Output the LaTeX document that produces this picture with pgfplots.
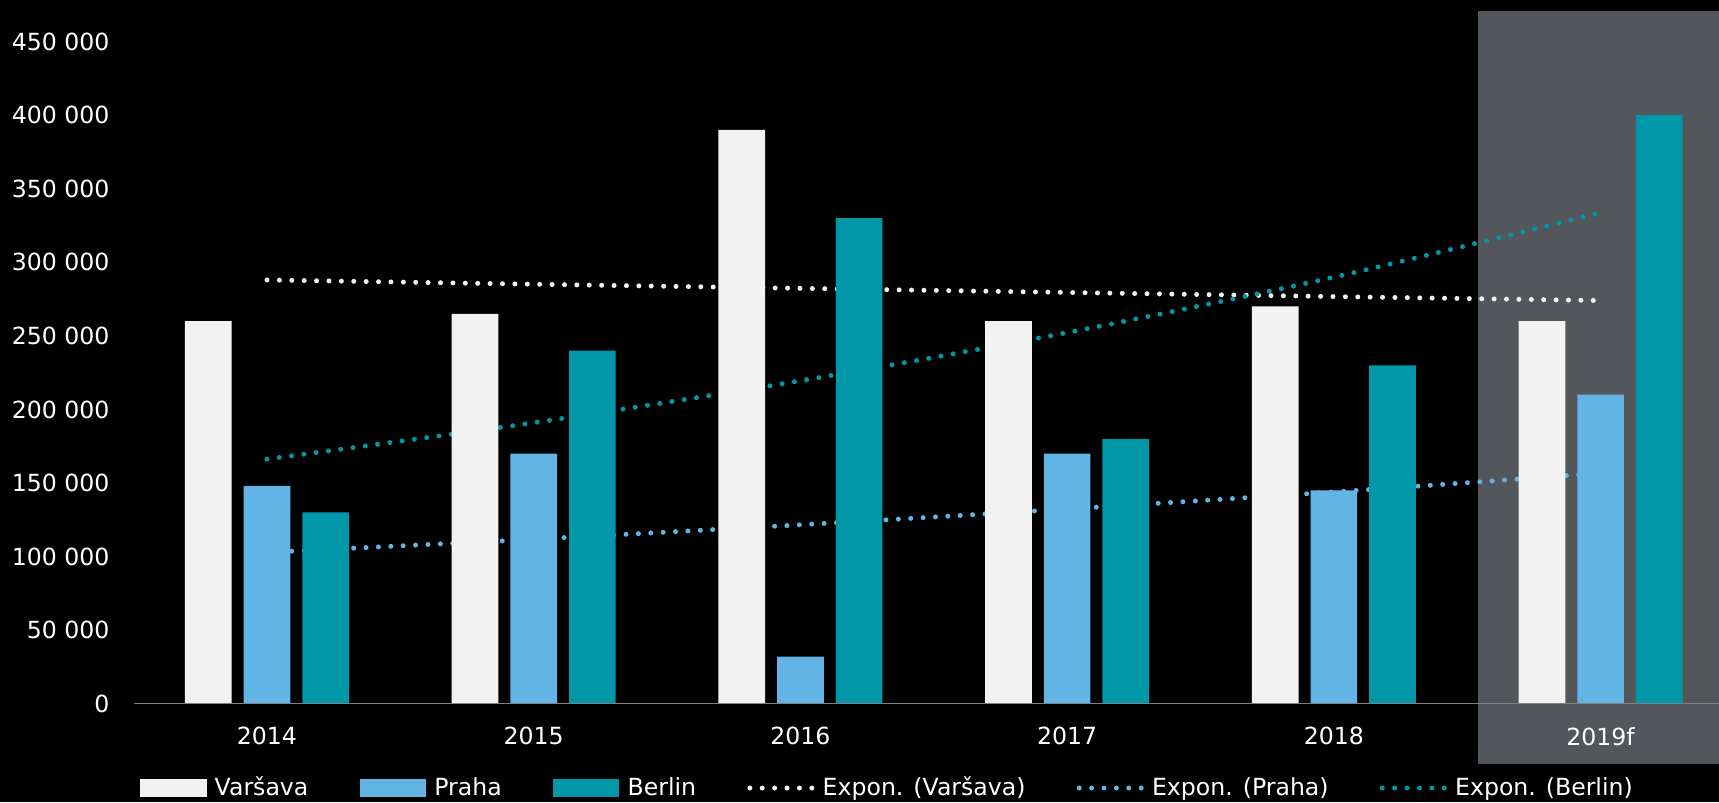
\documentclass[border=0pt]{standalone}
\usepackage{fontspec}
\setmainfont{DejaVu Sans}
\usepackage{pgfplots}
\pgfplotsset{compat=1.18}
\definecolor{warsaw}{HTML}{F2F2F2}
\definecolor{prague}{HTML}{62B4E4}
\definecolor{berlin}{HTML}{0098A9}
\definecolor{fc}{HTML}{53565A}
\definecolor{axisgray}{HTML}{808080}
\begin{document}
\fontsize{11.8}{14}\selectfont
\begin{tikzpicture}
\begin{axis}[
 scale only axis, width=792.9pt, height=331.1pt,
 xmin=-0.5, xmax=5.444, ymin=0, ymax=450000,
 axis line style={draw=none},
 clip=false, axis on top,
 scaled y ticks=false,
 xtick={0,...,5}, xticklabels={2014,2015,2016,2017,2018,2019f},
 ytick={0,50000,100000,150000,200000,250000,300000,350000,400000,450000},
 yticklabels={0,50 000,100 000,150 000,200 000,250 000,300 000,350 000,400 000,450 000},
 major tick length=0pt,
 tick label style={text=white, font=\fontsize{11.8}{14}\selectfont},
 x tick label style={yshift=-7.7pt},
 y tick label style={xshift=-8pt},
 legend columns=6,
 legend style={text=white, draw=none, fill=none, inner sep=0pt, outer sep=0pt,
   at={(0.004,-0.1275)}, anchor=west, font=\fontsize{11.8}{14}\selectfont,
   /tikz/every odd column/.append style={column sep=2.2pt},
   /tikz/every even column/.append style={column sep=23.6pt}},
]
\coordinate (bbSW) at (axis cs:-1.001,-67050);
\coordinate (bbNE) at (axis cs:5.444,478300);
\fill[black] (axis cs:-1.001,-67050) rectangle (axis cs:5.444,478300);
\fill[fc] (axis cs:4.541,-41000) rectangle (axis cs:5.6,470900);
% exponential trend lines (read at category centres)
\addplot[warsaw, line width=2.5pt, line cap=round, dash pattern=on 0pt off 6.2pt, smooth, forget plot]
 coordinates {(0,288000)(1,285100)(2,282300)(3,279500)(4,276700)(5,274000)};
\addplot[prague, line width=2.5pt, line cap=round, dash pattern=on 0pt off 6.2pt, smooth, forget plot]
 coordinates {(0,102800)(1,111800)(2,121600)(3,132300)(4,143900)(5,156600)};
\addplot[berlin, line width=2.5pt, line cap=round, dash pattern=on 0pt off 6.2pt, smooth, forget plot]
 coordinates {(0,166200)(1,191000)(2,219500)(3,252200)(4,289900)(5,333700)};
% bars
\addplot[ybar, bar width=0.175, bar shift=-0.22, fill=warsaw, draw=none, forget plot]
 coordinates {(0,260000)(1,265000)(2,390000)(3,260000)(4,270000)(5,260000)};
\addplot[ybar, bar width=0.175, bar shift=0, fill=prague, draw=none, forget plot]
 coordinates {(0,148000)(1,170000)(2,32000)(3,170000)(4,145000)(5,210000)};
\addplot[ybar, bar width=0.175, bar shift=0.22, fill=berlin, draw=none, forget plot]
 coordinates {(0,130000)(1,240000)(2,330000)(3,180000)(4,230000)(5,400000)};
\draw[axisgray, line width=0.8pt] (axis cs:-0.5,0) -- (axis cs:5.444,0);
% legend
\addlegendimage{legend image code/.code={\fill[warsaw] (0pt,-4.2pt) rectangle (32.8pt,4.2pt);}}
\addlegendentry{Varšava}
\addlegendimage{legend image code/.code={\fill[prague] (0pt,-4.2pt) rectangle (32.8pt,4.2pt);}}
\addlegendentry{Praha}
\addlegendimage{legend image code/.code={\fill[berlin] (0pt,-4.2pt) rectangle (32.8pt,4.2pt);}}
\addlegendentry{Berlin}
\addlegendimage{legend image code/.code={\draw[warsaw, line width=2.5pt, line cap=round, dash pattern=on 0pt off 6.2pt] (1.2pt,0pt) -- (32.2pt,0pt);}}
\addlegendentry{Expon. (Varšava)}
\addlegendimage{legend image code/.code={\draw[prague, line width=2.5pt, line cap=round, dash pattern=on 0pt off 6.2pt] (1.2pt,0pt) -- (32.2pt,0pt);}}
\addlegendentry{Expon. (Praha)}
\addlegendimage{legend image code/.code={\draw[berlin, line width=2.5pt, line cap=round, dash pattern=on 0pt off 6.2pt] (1.2pt,0pt) -- (32.2pt,0pt);}}
\addlegendentry{Expon. (Berlin)}
\end{axis}
\pgfresetboundingbox
\path[use as bounding box] (bbSW) rectangle (bbNE);
\end{tikzpicture}
\end{document}
